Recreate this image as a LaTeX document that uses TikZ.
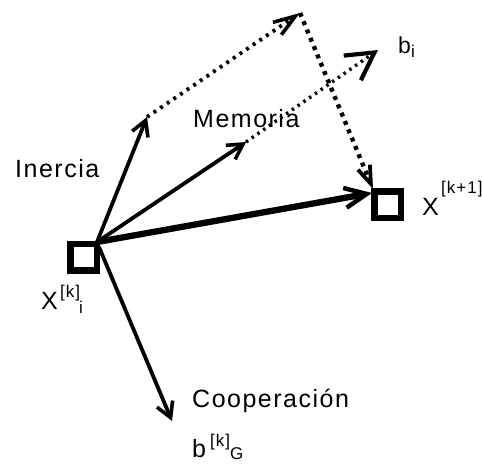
\documentclass[tikz,border=0pt]{standalone}
\usepackage{fontspec}
\setmainfont{Liberation Sans}[LetterSpace=6]
\usetikzlibrary{arrows.meta}
\begin{document}
\begin{tikzpicture}[x=1pt,y=-1pt,
  lbl/.style={inner sep=0pt, anchor=base west, font=\fontsize{25}{25}\selectfont},
  small/.style={inner sep=0pt, anchor=base west, font=\fontsize{17}{17}\selectfont},
  boxn/.style={draw, line width=6.5pt, minimum size=26.5pt, inner sep=0pt},
  vec/.style={line width=3.8pt, -{Straight Barb[length=15pt,width=17pt,line width=3.6pt]}},
  bigvec/.style={line width=6.3pt, -{Straight Barb[length=22pt,width=20pt,line width=4.5pt]}},
  dotvec/.style={line width=3.8pt, dash pattern=on 3pt off 5pt},
]
\useasboundingbox (0,0) rectangle (482,464);

% boxes
\node[boxn] (xi) at (83.5,257) {};
\node[boxn] (xk) at (387.5,204.5) {};

% points
\coordinate (o) at (97,242);
\coordinate (oc) at (99,247);
\coordinate (tin) at (147,117);
\coordinate (tmem) at (246,142);
\coordinate (apex) at (300,13);
\coordinate (tbi) at (378,50);
\coordinate (tx) at (373,189);
\coordinate (tbig) at (372,193);
\coordinate (tcoop) at (172,421);

% solid vectors
\draw[vec] (o) -- (tin);
\draw[vec] (o) -- (tmem);
\draw[vec] (oc) -- (tcoop);
\draw[bigvec] (o) -- (tbig);

% dotted vectors
\draw[dotvec, -{Straight Barb[length=22pt,width=15pt,line width=3.6pt]}] (tin) -- (apex);
\draw[dotvec, line width=3.4pt, dash pattern=on 2.5pt off 4.5pt,
      -{Straight Barb[length=27pt,width=30pt,line width=4.2pt]}] (tmem) -- (tbi);
\draw[dotvec, line width=4.4pt, dash pattern=on 4pt off 5pt,
      -{Straight Barb[length=18pt,width=13pt,line width=3.8pt]}] (apex) -- (tx);

% labels
\node[lbl] (inercia) at (15,177) {Inercia};
\node[lbl] (memoria) at (193,127) {Memoria};
\node[lbl] (coop) at (192,407) {Cooperación};

\node[lbl] (xlab) at (41,309) {X};
\node[small] (xsup) at (60,297) {[k]};
\node[small] (xsub) at (79,313) {i};

\node[lbl] (xklab) at (422,215) {X};
\node[small] (xksup) at (441,193) {[k+1]};

\node[lbl, font=\fontsize{23}{23}\selectfont] (blab) at (398,53) {b};
\node[small] (bsub) at (411,57) {i};

\node[lbl] (bglab) at (192,457) {b};
\node[small] (bgsup) at (210,446) {[k]};
\node[small] (bgsub) at (230,459) {G};
\end{tikzpicture}
\end{document}
